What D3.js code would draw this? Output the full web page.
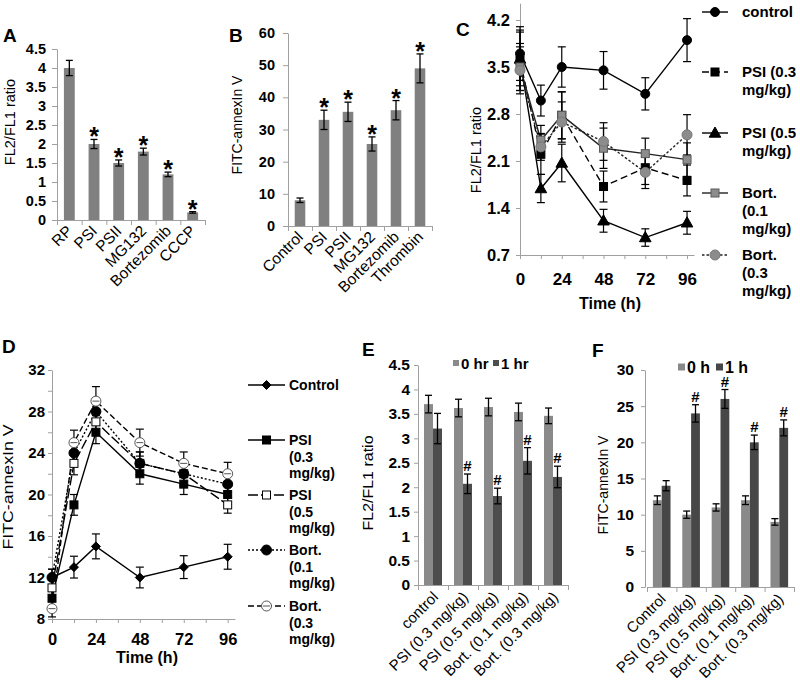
<!DOCTYPE html>
<html><head><meta charset="utf-8">
<script src="https://cdn.jsdelivr.net/npm/d3@7"></script>
<style>
body{margin:0;background:#fff}
svg text{font-family:Arial,"Liberation Sans",sans-serif;fill:#000}
</style></head><body>
<svg id="c" width="800" height="693"></svg>
<script>
// ---------- DATA ----------
const aCats = ["RP","PSI","PSII","MG132","Bortezomib","CCCP"];
const aVals = [4.0,2.0,1.5,1.8,1.2,0.2];
const aErr  = [0.2,0.12,0.08,0.09,0.06,0.02];
const aSig  = [false,true,true,true,true,true];
const aTicks = [0,0.5,1,1.5,2,2.5,3,3.5,4,4.5];

const bCats = ["Control","PSI","PSII","MG132","Bortezomib","Thrombin"];
const bVals = [8,33,35.5,25.5,36,49];
const bErr  = [0.7,3,3,2.2,3,4.5];
const bSig  = [false,true,true,true,true,true];
const bTicks = [0,10,20,30,40,50,60];

const cTimes = [0,12,24,48,72,96];
const cControl = [3.7,3.0,3.5,3.45,3.1,3.9];
const cControlErr = [0.4,0.23,0.3,0.28,0.24,0.32];
const cPsi03 = [3.6,2.2,2.78,1.72,2.0,1.81];
const cPsi03Err = [0.45,0.3,0.35,0.23,0.25,0.23];
const cPsi05 = [3.62,1.69,2.07,1.21,0.96,1.18];
const cPsi05Err = [0.4,0.21,0.28,0.17,0.13,0.17];
const cBort01 = [3.5,2.41,2.78,2.29,2.21,2.12];
const cBort01Err = [0.35,0.22,0.35,0.3,0.23,0.25];
const cBort03 = [3.45,2.31,2.68,2.39,1.93,2.49];
const cBort03Err = [0.35,0.2,0.3,0.28,0.24,0.3];
const cNames = [["control"],["PSI (0.3","mg/kg)"],["PSI (0.5","mg/kg)"],["Bort.","(0.1","mg/kg)"],["Bort.","(0.3","mg/kg)"]];
const cTicks = [0.7,1.4,2.1,2.8,3.5,4.2];
const timeLabels = [0,24,48,72,96];
const timeMinor = [0,12,24,36,48,60,72,84,96];

const dTimes = [0,12,24,48,72,96];
const dControl = [12,13,15,12,13,14];
const dControlErr = [0.8,1.05,1.2,1.0,1.1,1.2];
const dPsi03 = [10,19,26,22,21,20];
const dPsi03Err = [0.8,1.0,1.1,1.0,1.0,1.0];
const dPsi05 = [11,23,27,23,22,19];
const dPsi05Err = [0.8,1.1,1.2,1.1,1.1,0.8];
const dBort01 = [12,24,28,23,22,21];
const dBort01Err = [0.8,1.2,1.3,1.1,1.1,1.1];
const dBort03 = [9,25,29,25,23,22];
const dBort03Err = [0.8,1.2,1.4,1.3,1.1,1.1];
const dNames = [["Control"],["PSI","(0.3","mg/kg)"],["PSI","(0.5","mg/kg)"],["Bort.","(0.1","mg/kg)"],["Bort.","(0.3","mg/kg)"]];
const dTicks = [8,12,16,20,24,28,32];
const dMinor = [8,10,12,14,16,18,20,22,24,26,28,30,32];

const eCats = ["control","PSI (0.3 mg/kg)","PSI (0.5 mg/kg)","Bort. (0.1 mg/kg)","Bort. (0.3 mg/kg)"];
const eSeries = ["0 hr","1 hr"];
const e0 = [3.7,3.62,3.64,3.54,3.46];
const e0Err = [0.18,0.18,0.18,0.18,0.16];
const e1 = [3.2,2.07,1.82,2.54,2.21];
const e1Err = [0.31,0.2,0.16,0.27,0.22];
const eSig = [false,true,true,true,true];
const eTicks = [0,0.5,1,1.5,2,2.5,3,3.5,4,4.5];

const fCats = ["Control","PSI (0.3 mg/kg)","PSI (0.5 mg/kg)","Bort. (0.1 mg/kg)","Bort. (0.3 mg/kg)"];
const fSeries = ["0 h","1 h"];
const f0 = [12,10,11,12,9];
const f0Err = [0.6,0.5,0.5,0.6,0.45];
const f1 = [14,24,26,20,22];
const f1Err = [0.7,1.2,1.3,1.0,1.1];
const fSig = [false,true,true,true,true];
const fTicks = [0,5,10,15,20,25,30];

// ---------- HELPERS ----------
const FONT = 'Arial, "Liberation Sans", sans-serif';
const svg = d3.select("#c");
const AXC = "#a0a0a0";

function styleAxis(g, fs, weight){
  g.attr("font-family",FONT).attr("font-size",fs).attr("font-weight",weight);
  g.select(".domain").attr("stroke",AXC);
  g.selectAll(".tick line").attr("stroke",AXC);
  g.selectAll(".tick text").attr("fill","#000");
}
function errBar(g, x, y1, y2, cap){
  g.append("line").attr("x1",x).attr("x2",x).attr("y1",y1).attr("y2",y2);
  g.append("line").attr("x1",x-cap/2).attr("x2",x+cap/2).attr("y1",y1).attr("y2",y1);
  g.append("line").attr("x1",x-cap/2).attr("x2",x+cap/2).attr("y1",y2).attr("y2",y2);
}
function letter(t,x,y){
  svg.append("text").attr("x",x).attr("y",y).attr("font-size",19).attr("font-weight","bold").text(t);
}
function yTitle(t,cx,cy,fs,len,weight){
  const el = svg.append("text").attr("transform",`translate(${cx},${cy}) rotate(-90)`)
    .attr("text-anchor","middle").attr("dy","0.35em").attr("font-size",fs)
    .attr("font-weight",weight||"normal").text(t);
  if(len) el.attr("textLength",len).attr("lengthAdjust","spacingAndGlyphs");
}
function marker(g, type, x, y, s, fill, stroke){
  if(type==="circle"){
    g.append("circle").attr("cx",x).attr("cy",y).attr("r",s/2).attr("fill",fill).attr("stroke",stroke).attr("stroke-width",1);
  } else if(type==="square"){
    g.append("rect").attr("x",x-s/2).attr("y",y-s/2).attr("width",s).attr("height",s).attr("fill",fill).attr("stroke",stroke).attr("stroke-width",1);
  } else if(type==="triangle"){
    g.append("path").attr("d",`M${x},${y-s*0.6}L${x+s*0.58},${y+s*0.42}L${x-s*0.58},${y+s*0.42}Z`).attr("fill",fill).attr("stroke",stroke);
  } else if(type==="diamond"){
    g.append("path").attr("d",`M${x},${y-s/2}L${x+s/2},${y}L${x},${y+s/2}L${x-s/2},${y}Z`).attr("fill",fill).attr("stroke",stroke);
  } else if(type==="circleDash"){
    g.append("circle").attr("cx",x).attr("cy",y).attr("r",s/2).attr("fill",fill).attr("stroke",stroke).attr("stroke-width",1);
    g.append("line").attr("x1",x-s/2+1.5).attr("x2",x+s/2-1.5).attr("y1",y).attr("y2",y).attr("stroke",stroke).attr("stroke-width",1);
  }
}

// ---------- SIMPLE BAR PANELS (A, B) ----------
function simpleBars(o){
  const x = d3.scaleBand().domain(o.cats).range([o.x0,o.x1]).paddingInner(o.pad).paddingOuter(o.pad/2);
  const y = d3.scaleLinear().domain([o.ticks[0], o.ticks[o.ticks.length-1]]).range([o.y0,o.y1]);
  const gy = svg.append("g").attr("transform",`translate(${o.x0},0)`)
    .call(d3.axisLeft(y).tickValues(o.ticks).tickSize(5).tickPadding(o.tp).tickSizeOuter(0).tickFormat(d=>String(d)));
  styleAxis(gy,o.tfs,"bold");
  const xb = d3.scaleLinear().domain([0,o.cats.length]).range([o.x0,o.x1]);
  const gx = svg.append("g").attr("transform",`translate(0,${o.y0})`)
    .call(d3.axisBottom(xb).tickValues(d3.range(o.cats.length+1)).tickSize(5).tickSizeOuter(0).tickFormat(""));
  styleAxis(gx,10,"normal");
  svg.append("g").selectAll("rect").data(o.vals).join("rect")
    .attr("x",(d,i)=>x(o.cats[i])).attr("width",x.bandwidth())
    .attr("y",d=>y(d)).attr("height",d=>o.y0-y(d)).attr("fill",o.color);
  const ge = svg.append("g").attr("stroke","#000").attr("stroke-width",1.3);
  o.vals.forEach((v,i)=>{
    const cx = x(o.cats[i])+x.bandwidth()/2;
    errBar(ge,cx,y(v+o.err[i]),y(v-o.err[i]),7);
  });
  svg.append("g").selectAll("text").data(o.vals).join("text")
    .attr("x",(d,i)=>x(o.cats[i])+x.bandwidth()/2).attr("y",(d,i)=>y(d+o.err[i])+6)
    .attr("text-anchor","middle").attr("font-size",25).attr("font-weight","bold")
    .text((d,i)=>o.sig[i]?"*":"");
  svg.append("g").selectAll("text").data(o.cats).join("text")
    .attr("transform",d=>`translate(${x(d)+x.bandwidth()/2+4},${o.y0+12}) rotate(-45)`)
    .attr("text-anchor","end").attr("font-size",15.5).text(d=>d);
}

simpleBars({cats:aCats,vals:aVals,err:aErr,sig:aSig,ticks:aTicks,x0:57,x1:205,y0:220,y1:49,pad:0.56,tp:6,tfs:14.5,color:"#808080"});
letter("A",3,42);
yTitle("FL2/FL1 ratio",10,122,14.5);

simpleBars({cats:bCats,vals:bVals,err:bErr,sig:bSig,ticks:bTicks,x0:288,x1:432,y0:226,y1:33,pad:0.56,tp:8,tfs:14.5,color:"#808080"});
letter("B",229,42);
yTitle("FITC-annexIn V",237,125,14);

// ---------- LINE PANELS (C, D) ----------
function linePanel(o){
  const x = d3.scaleLinear().domain([0,100]).range([o.x0,o.x1]);
  const y = d3.scaleLinear().domain(o.ydom).range([o.y0,o.y1]);
  const gy = svg.append("g").attr("transform",`translate(${o.x0},0)`)
    .call(d3.axisLeft(y).tickValues(o.yMinor).tickSize(4).tickPadding(o.ytp).tickSizeOuter(0)
      .tickFormat(d=>o.yTicks.some(t=>Math.abs(t-d)<1e-9)?String(d):""));
  styleAxis(gy,o.ytfs,"bold");
  const gx = svg.append("g").attr("transform",`translate(0,${o.y0})`)
    .call(d3.axisBottom(x).tickValues(timeMinor).tickSize(4).tickPadding(o.xtp).tickSizeOuter(0)
      .tickFormat(d=>timeLabels.includes(d)?String(d):""));
  styleAxis(gx,o.xtfs,"bold");
  const line = d3.line().x((d,i)=>x(o.times[i])).y(d=>y(d));
  o.series.forEach(s=>{
    svg.append("path").datum(s.vals).attr("d",line).attr("fill","none")
      .attr("stroke",s.lc||"#000").attr("stroke-width",1.4).attr("stroke-dasharray",s.dash||null);
  });
  o.series.forEach(s=>{
    const ge = svg.append("g").attr("stroke","#000").attr("stroke-width",1.2);
    s.vals.forEach((v,i)=>errBar(ge,x(o.times[i]),y(v+s.err[i]),y(v-s.err[i]),8));
  });
  o.series.forEach(s=>{
    const gm = svg.append("g");
    s.vals.forEach((v,i)=>marker(gm,s.m,x(o.times[i]),y(v),s.s,s.fill,s.stroke));
  });
  // legend
  o.series.forEach((s,k)=>{
    const ly = o.legY[k];
    svg.append("line").attr("x1",o.legX0).attr("x2",o.legX1).attr("y1",ly).attr("y2",ly)
      .attr("stroke",s.lc||"#000").attr("stroke-width",1.4).attr("stroke-dasharray",s.dash||null);
    marker(svg,s.m,(o.legX0+o.legX1)/2,ly,s.s,s.fill,s.stroke);
    o.names[k].forEach((t,j)=>{
      svg.append("text").attr("x",o.legTx).attr("y",ly+5+j*o.legDy)
        .attr("font-size",o.legFs).attr("font-weight","bold").text(t);
    });
  });
  svg.append("text").attr("x",o.timeX).attr("y",o.timeY).attr("text-anchor","middle")
    .attr("font-size",16).attr("font-weight","bold").text("Time (h)");
}

linePanel({
  x0:520,x1:694,y0:255,y1:3.2,ydom:[0.7,4.45],yTicks:cTicks,yMinor:cTicks,ytp:6,ytfs:16.5,xtp:14,xtfs:17,
  times:cTimes,
  series:[
    {vals:cControl,err:cControlErr,m:"circle",s:9,fill:"#000",stroke:"#000"},
    {vals:cPsi03,err:cPsi03Err,m:"square",s:8,fill:"#000",stroke:"#000",dash:"7,4"},
    {vals:cPsi05,err:cPsi05Err,m:"triangle",s:10,fill:"#000",stroke:"#000"},
    {vals:cBort01,err:cBort01Err,m:"square",s:8,fill:"#8c8c8c",stroke:"#5a5a5a",lc:"#222"},
    {vals:cBort03,err:cBort03Err,m:"circle",s:10,fill:"#8c8c8c",stroke:"#777",dash:"2.5,2",lc:"#222"}
  ],
  names:cNames,legY:[12,72,133,193,255],legX0:702,legX1:728,legTx:742,legDy:18,legFs:15,
  timeX:610,timeY:309
});
letter("C",456,36);
yTitle("FL2/FL1 ratio",476,150,14.5);

linePanel({
  x0:52,x1:235,y0:619,y1:370,ydom:[8,32],yTicks:dTicks,yMinor:dMinor,ytp:3,ytfs:15,xtp:10,xtfs:16.5,
  times:dTimes,
  series:[
    {vals:dControl,err:dControlErr,m:"diamond",s:9,fill:"#000",stroke:"#000"},
    {vals:dPsi03,err:dPsi03Err,m:"square",s:8,fill:"#000",stroke:"#000"},
    {vals:dPsi05,err:dPsi05Err,m:"square",s:8,fill:"#fff",stroke:"#000",dash:"10,3"},
    {vals:dBort01,err:dBort01Err,m:"circle",s:10,fill:"#000",stroke:"#000",dash:"2,2"},
    {vals:dBort03,err:dBort03Err,m:"circleDash",s:10,fill:"#fff",stroke:"#555",dash:"6,3"}
  ],
  names:dNames,legY:[385,440,495,550,606],legX0:248,legX1:285,legTx:289,legDy:16.7,legFs:14,
  timeX:147,timeY:663
});
letter("D",2,353);
yTitle("FITC-annexIn V",8,487,15,125);

// ---------- GROUPED BAR PANELS (E, F) ----------
function groupBars(o){
  const x = d3.scaleBand().domain(o.cats).range([o.x0,o.x1]).paddingInner(0.4).paddingOuter(0.2);
  const xs = d3.scaleBand().domain(o.series).range([0,x.bandwidth()]);
  const y = d3.scaleLinear().domain([o.ticks[0],o.ticks[o.ticks.length-1]]).range([o.y0,o.y1]);
  const gy = svg.append("g").attr("transform",`translate(${o.ax},0)`)
    .call(d3.axisLeft(y).tickValues(o.ticks).tickSize(4).tickPadding(o.tp).tickSizeOuter(0).tickFormat(d=>String(d)));
  styleAxis(gy,o.tfs,"bold");
  const xb = d3.scaleLinear().domain([0,o.cats.length]).range([o.x0,o.x1]);
  const gx = svg.append("g").attr("transform",`translate(0,${o.y0})`)
    .call(d3.axisBottom(xb).tickValues(d3.range(o.cats.length+1)).tickSize(5).tickSizeOuter(0).tickFormat(""));
  styleAxis(gx,10,"normal");
  const sets = [o.v0,o.v1], errs=[o.e0,o.e1];
  sets.forEach((vals,k)=>{
    svg.append("g").selectAll("rect").data(vals).join("rect")
      .attr("x",(d,i)=>x(o.cats[i])+xs(o.series[k])).attr("width",xs.bandwidth())
      .attr("y",d=>y(d)).attr("height",d=>o.y0-y(d)).attr("fill",o.colors[k]);
  });
  const ge = svg.append("g").attr("stroke","#000").attr("stroke-width",1.3);
  sets.forEach((vals,k)=>vals.forEach((v,i)=>{
    const cx = x(o.cats[i])+xs(o.series[k])+xs.bandwidth()/2;
    errBar(ge,cx,y(v+errs[k][i]),y(v-errs[k][i]),7);
  }));
  svg.append("g").selectAll("text").data(o.v1).join("text")
    .attr("x",(d,i)=>x(o.cats[i])+xs(o.series[1])+xs.bandwidth()/2)
    .attr("y",(d,i)=>y(d+o.e1[i])-3).attr("text-anchor","middle")
    .attr("font-size",15).attr("font-weight","bold").text((d,i)=>o.sig[i]?"#":"");
  svg.append("g").selectAll("text").data(o.cats).join("text")
    .attr("transform",d=>`translate(${x(d)+x.bandwidth()/2+o.lx},${o.y0+o.ly}) rotate(-45)`)
    .attr("text-anchor","end").attr("font-size",15).text(d=>d);
  // legend
  o.series.forEach((s,k)=>{
    svg.append("rect").attr("x",o.legX[k]).attr("y",o.legY-o.legS/2).attr("width",o.legS).attr("height",o.legS).attr("fill",o.colors[k]);
    svg.append("text").attr("x",o.legX[k]+o.legS+2).attr("y",o.legY+5.5).attr("font-size",o.legFs).attr("font-weight","bold").text(s);
  });
}

groupBars({cats:eCats,series:eSeries,v0:e0,v1:e1,e0:e0Err,e1:e1Err,sig:eSig,ticks:eTicks,
  x0:418,x1:568,ax:418,y0:585,y1:365,tp:4,tfs:15.5,colors:["#8a8a8a","#4d4d4d"],lx:6,ly:13,
  legX:[453,493],legY:363,legS:6,legFs:15});
letter("E",362,356);
yTitle("FL2/FL1 ratio",368,483,14,95);

groupBars({cats:fCats,series:fSeries,v0:f0,v1:f1,e0:f0Err,e1:f1Err,sig:fSig,ticks:fTicks,
  x0:647,x1:794,ax:645,y0:587,y1:370,tp:7,tfs:15.5,colors:["#898989","#474747"],lx:5,ly:13,
  legX:[678,716],legY:367,legS:7,legFs:16});
letter("F",592,357);
yTitle("FITC-annexIn V",603,485,14);
</script>
</body></html>
